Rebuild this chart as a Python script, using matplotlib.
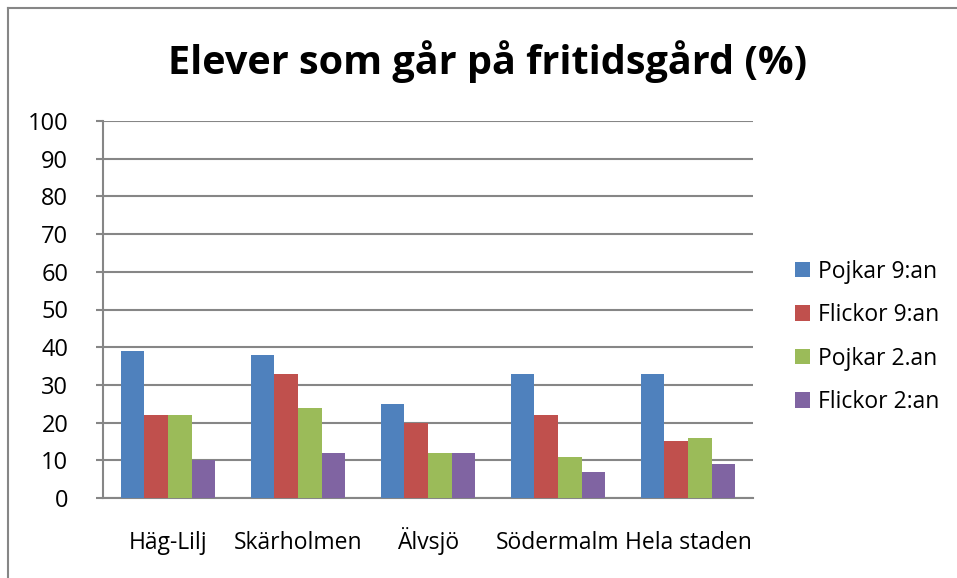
import matplotlib
matplotlib.use("Agg")
import matplotlib.pyplot as plt
import numpy as np
from matplotlib.lines import Line2D

categories = ["Häg-Lilj", "Skärholmen", "Älvsjö", "Södermalm", "Hela staden"]
series_names = ["Pojkar 9:an", "Flickor 9:an", "Pojkar 2.an", "Flickor 2:an"]
pojkar9 = [39, 38, 25, 33, 33]
flickor9 = [22, 33, 20, 22, 15]
pojkar2 = [22, 24, 12, 11, 16]
flickor2 = [10, 12, 12, 7, 9]
colors = ["#4F81BD", "#C0504D", "#9BBB59", "#8064A2"]
yticks = list(range(0, 101, 10))

plt.rcParams['font.family'] = ['Open Sans', 'DejaVu Sans']

fig = plt.figure(figsize=(9.57, 5.78), dpi=100)
ax = fig.add_axes([103/957, 1-498/578, (753-103)/957, (498-121)/578])

data = [pojkar9, flickor9, pojkar2, flickor2]
x = np.arange(len(categories))
bw = 1/5.5
for i, (vals, c, name) in enumerate(zip(data, colors, series_names)):
    ax.bar(x + (i-1.5)*bw, vals, width=bw, color=c, label=name, zorder=3)

ax.set_xlim(-0.5, len(categories)-0.5)
ax.set_ylim(0, 100)
ax.set_yticks(yticks)
ax.set_yticklabels([str(t) for t in yticks], fontsize=17)
ax.set_xticks(x)
ax.set_xticklabels(categories, fontsize=16.5)
for lab in ax.get_xticklabels():
    lab.set_va('baseline')
ax.tick_params(axis='x', length=0, pad=36.5)
ax.tick_params(axis='y', length=5, width=1.5, color="#868686", pad=20)
ax.yaxis.grid(True, color="#868686", linewidth=1.5, zorder=0)
for s in ["top", "right"]:
    ax.spines[s].set_visible(False)
for s in ["left", "bottom"]:
    ax.spines[s].set_color("#868686")
    ax.spines[s].set_linewidth(1.5)

fig.text(488/957, 1-62/578, "Elever som går på fritidsgård (%)", ha="center", va="center",
         fontsize=28.5, fontweight="bold")

leg = fig.legend(loc="upper left", bbox_to_anchor=(774/957, 1-239/578), frameon=False,
                 fontsize=16.5, handlelength=0.65, handleheight=0.65, labelspacing=0.85,
                 handletextpad=0.35)

# chart border
fig.add_artist(Line2D([8/957, 1], [1-8/578, 1-8/578], color="#868686", linewidth=1.5))
fig.add_artist(Line2D([8/957, 8/957], [0, 1-8/578], color="#868686", linewidth=1.5))

fig.savefig("out.png", dpi=100)
